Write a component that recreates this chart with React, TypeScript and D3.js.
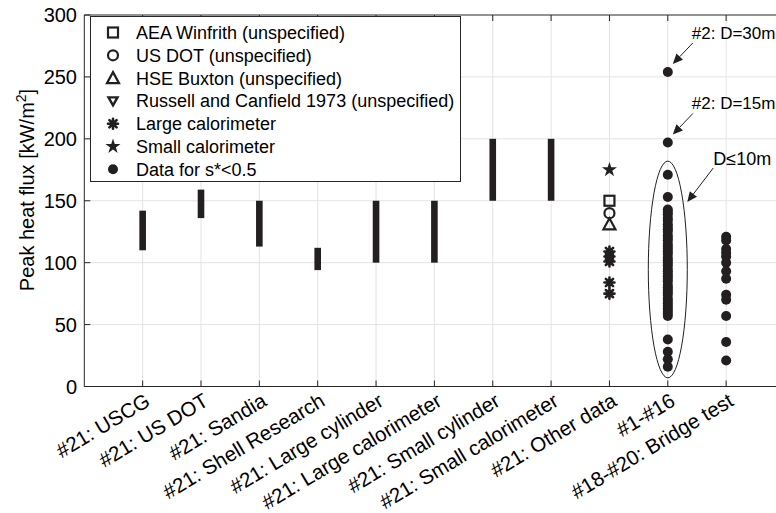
import React from 'react';
import * as d3 from 'd3';

// categories along the x axis (positions 1..11)
const categories = [
  '#21: USCG',
  '#21: US DOT',
  '#21: Sandia',
  '#21: Shell Research',
  '#21: Large cylinder',
  '#21: Large calorimeter',
  '#21: Small cylinder',
  '#21: Small calorimeter',
  '#21: Other data',
  '#1-#16',
  '#18-#20: Bridge test',
];
const yTicks = [0, 50, 100, 150, 200, 250, 300];

// ranges reported for test #21 (first 8 categories)
const rangeLow = [110, 136, 113, 94, 100, 100, 150, 150];
const rangeHigh = [142, 159, 150, 112, 150, 150, 200, 200];

// "#21: Other data" column
const aeaWinfrith = [150];
const usDotUnspec = [140];
const hseBuxton = [131];
const largeCalorimeter = [109, 105, 101, 84, 75];
const smallCalorimeter = [175];

// Data for s*<0.5
const tests1to16 = [
  254, 197, 171, 153, 143, 141, 139, 136, 134, 131, 129, 127, 125, 122, 120, 118,
  115, 113, 111, 109, 107, 104, 102, 100, 98, 95, 93, 91, 89, 87, 85, 82, 80, 78,
  76, 74, 71, 69, 67, 65, 63, 61, 59, 57, 38, 28, 22, 16,
];
const bridgeTest = [121, 118, 111, 108, 105, 100, 93, 87, 74, 70, 57, 36, 21];

const notes = [
  { text: '#2: D=30m', cat: 10, val: 254 },
  { text: '#2: D=15m', cat: 10, val: 197 },
];

const legendItems = [
  { label: 'AEA Winfrith (unspecified)', kind: 'square' },
  { label: 'US DOT (unspecified)', kind: 'circleOpen' },
  { label: 'HSE Buxton (unspecified)', kind: 'triangle' },
  { label: 'Russell and Canfield 1973 (unspecified)', kind: 'triangleDown' },
  { label: 'Large calorimeter', kind: 'asterisk' },
  { label: 'Small calorimeter', kind: 'star' },
  { label: 'Data for s*<0.5', kind: 'dot' },
];

const ink = '#231f20';
const axisColor = '#262626';
const font = '"Liberation Sans", Arial, Helvetica, sans-serif';

function Marker({ kind, x, y }: { kind: string; x: number; y: number }) {
  const t = `translate(${x},${y})`;
  if (kind === 'square')
    return <rect x={x - 5} y={y - 5} width={10} height={10} fill="none" stroke={ink} strokeWidth={2.2} />;
  if (kind === 'circleOpen')
    return <circle cx={x} cy={y} r={5} fill="none" stroke={ink} strokeWidth={2.2} />;
  if (kind === 'triangle')
    return <path transform={t} d="M0,-6L6,5L-6,5Z" fill="none" stroke={ink} strokeWidth={2.2} />;
  if (kind === 'triangleDown')
    return <path transform={t} d="M0,4.5L4.5,-3.5L-4.5,-3.5Z" fill="none" stroke={ink} strokeWidth={2.4} />;
  if (kind === 'asterisk')
    return (
      <path
        transform={t}
        d="M-5,0L5,0M0,-5L0,5M-3.6,-3.6L3.6,3.6M-3.6,3.6L3.6,-3.6"
        stroke={ink}
        strokeWidth={2.6}
        strokeLinecap="round"
      />
    );
  if (kind === 'star')
    return <path transform={t} d={d3.symbol(d3.symbolStar, 70)() || ''} fill={ink} />;
  return <circle cx={x} cy={y} r={5} fill={ink} />;
}

function Arrow({ x1, y1, x2, y2 }: { x1: number; y1: number; x2: number; y2: number }) {
  const ang = Math.atan2(y2 - y1, x2 - x1);
  const len = 10;
  const half = 4.5;
  const bx = x2 - len * Math.cos(ang);
  const by = y2 - len * Math.sin(ang);
  const px = -Math.sin(ang) * half;
  const py = Math.cos(ang) * half;
  return (
    <g>
      <line x1={x1} y1={y1} x2={bx} y2={by} stroke={ink} strokeWidth={1} />
      <path d={`M${x2},${y2}L${bx + px},${by + py}L${bx - px},${by - py}Z`} fill={ink} />
    </g>
  );
}

export default function App() {
  const width = 776;
  const height = 513;
  const left = 84.3;
  const top = 15;
  const bottom = 386.5;
  const step = 58.35;

  const x = d3.scaleLinear().domain([0, 12]).range([left, left + 12 * step]);
  const y = d3.scaleLinear().domain([0, 300]).range([bottom, top]);
  const xr = x.range();

  // ellipse around #1-#16 (D<=10m)
  const ellCx = x(10);
  const ellCy = y(94.5);
  const ellRx = x(0.334) - x(0);
  const ellRy = y(7) - y(94.5);

  return (
    <svg
      width={width}
      height={height}
      style={{ position: 'absolute', left: 0, top: 0, background: '#fff' }}
      fontFamily={font}
    >
      {/* grid */}
      <g stroke="#e3e3e3" strokeWidth={1}>
        {categories.map((c, i) => (
          <line key={c} x1={x(i + 1)} x2={x(i + 1)} y1={top} y2={bottom} />
        ))}
        {yTicks.slice(1, -1).map(v => (
          <line key={v} x1={xr[0]} x2={xr[1]} y1={y(v)} y2={y(v)} />
        ))}
      </g>

      {/* axes box */}
      <g stroke={axisColor} strokeWidth={1} fill="none">
        <line x1={xr[0]} x2={xr[1]} y1={bottom} y2={bottom} />
        <line x1={xr[0]} x2={xr[1]} y1={top} y2={top} />
        <line x1={xr[0]} x2={xr[0]} y1={top} y2={bottom} />
        {categories.map((c, i) => (
          <g key={c}>
            <line x1={x(i + 1)} x2={x(i + 1)} y1={bottom} y2={bottom - 6} />
            <line x1={x(i + 1)} x2={x(i + 1)} y1={top} y2={top + 6} />
          </g>
        ))}
        {yTicks.map(v => (
          <line key={v} x1={xr[0]} x2={xr[0] + 6} y1={y(v)} y2={y(v)} />
        ))}
      </g>

      {/* y tick labels */}
      <g fontSize={20} fill="#000" textAnchor="end">
        {yTicks.map(v => (
          <text key={v} x={77} y={y(v)} dy="0.36em">
            {v}
          </text>
        ))}
      </g>

      {/* y axis label */}
      <text transform={`translate(34,${190}) rotate(-90)`} textAnchor="middle" fontSize={20} fill="#000">
        Peak heat flux [kW/m
        <tspan dy={-8} fontSize={14}>2</tspan>
        <tspan dy={8}>]</tspan>
      </text>

      {/* x tick labels */}
      <g fontSize={20.5} fill="#000" textAnchor="end">
        {categories.map((c, i) => (
          <text key={c} transform={`translate(${x(i + 1) + 5},${bottom + 12}) rotate(-31)`} dy="0.35em">
            {c}
          </text>
        ))}
      </g>

      {/* range bars */}
      {rangeLow.map((lo, i) => (
        <rect
          key={i}
          x={x(i + 1) - 3.3}
          width={6.6}
          y={y(rangeHigh[i])}
          height={y(lo) - y(rangeHigh[i])}
          fill={ink}
        />
      ))}

      {/* other data */}
      {smallCalorimeter.map((v, i) => <Marker key={'s' + i} kind="star" x={x(9)} y={y(v)} />)}
      {aeaWinfrith.map((v, i) => <Marker key={'a' + i} kind="square" x={x(9)} y={y(v)} />)}
      {usDotUnspec.map((v, i) => <Marker key={'u' + i} kind="circleOpen" x={x(9)} y={y(v)} />)}
      {hseBuxton.map((v, i) => <Marker key={'h' + i} kind="triangle" x={x(9)} y={y(v)} />)}
      {largeCalorimeter.map((v, i) => <Marker key={'l' + i} kind="asterisk" x={x(9)} y={y(v)} />)}

      {/* data for s*<0.5 */}
      {tests1to16.map((v, i) => <Marker key={'t' + i} kind="dot" x={x(10)} y={y(v)} />)}
      {bridgeTest.map((v, i) => <Marker key={'b' + i} kind="dot" x={x(11)} y={y(v)} />)}

      {/* ellipse + annotations */}
      <ellipse cx={ellCx} cy={ellCy} rx={ellRx} ry={ellRy} fill="none" stroke={ink} strokeWidth={1} />
      <g fontSize={17} fill="#000">
        {notes.map(n => (
          <g key={n.text}>
            <Arrow x1={x(n.cat) + 25} y1={y(n.val) - 29} x2={x(n.cat) + 5} y2={y(n.val) - 8} />
            <text x={x(n.cat) + 24} y={y(n.val) - 39} dy="0.35em">
              {n.text}
            </text>
          </g>
        ))}
        <Arrow x1={ellCx + ellRx + 26} y1={y(149) - 34} x2={ellCx + ellRx} y2={y(149)} />
        <text x={ellCx + ellRx + 26} y={y(149) - 43} dy="0.35em" fontSize={18}>
          D≤10m
        </text>
      </g>

      {/* legend */}
      <rect x={90.5} y={16.5} width={370} height={165} fill="#fff" stroke={axisColor} strokeWidth={1} />
      <g fontSize={18} fill="#000">
        {legendItems.map((it, i) => (
          <g key={it.label}>
            <Marker kind={it.kind} x={113} y={32.5 + i * 22.8} />
            <text x={136} y={32.5 + i * 22.8} dy="0.36em">
              {it.label}
            </text>
          </g>
        ))}
      </g>
    </svg>
  );
}
